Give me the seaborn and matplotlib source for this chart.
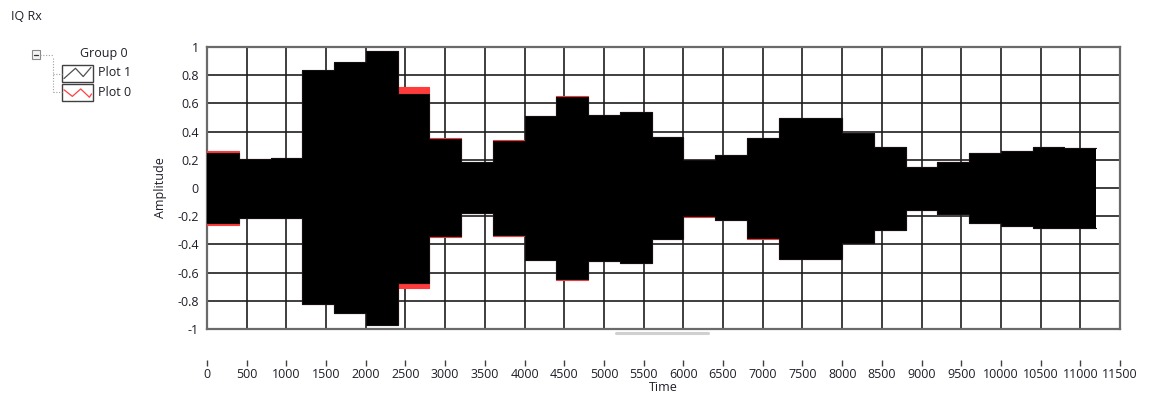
import numpy as np
import pandas as pd
import matplotlib
matplotlib.use("Agg")
import matplotlib.pyplot as plt
import seaborn as sns
from matplotlib.patches import Rectangle
from matplotlib.lines import Line2D

# ---------------- data (segment envelopes) ----------------
seg_start = [0, 400, 800, 1200, 1600, 2000, 2400, 2800, 3200, 3600, 4000, 4400, 4800, 5200,
             5600, 6000, 6400, 6800, 7200, 7600, 8000, 8400, 8800, 9200, 9600, 10000, 10400, 10800]
seg_end = 11200

plot1_upper = [0.25, 0.205, 0.215, 0.837, 0.896, 0.974, 0.667, 0.345, 0.182, 0.335, 0.51, 0.645,
               0.52, 0.54, 0.36, 0.20, 0.234, 0.357, 0.494, 0.50, 0.388, 0.293, 0.151, 0.182,
               0.246, 0.265, 0.293, 0.281]
plot1_lower = [-0.25, -0.21, -0.215, -0.825, -0.89, -0.97, -0.676, -0.34, -0.175, -0.335, -0.51,
               -0.645, -0.52, -0.53, -0.36, -0.2, -0.23, -0.357, -0.5, -0.505, -0.39, -0.298,
               -0.156, -0.187, -0.246, -0.267, -0.286, -0.281]
plot0_upper = [0.265, 0.205, 0.215, 0.83, 0.89, 0.97, 0.714, 0.352, 0.175, 0.338, 0.51, 0.652,
               0.52, 0.54, 0.36, 0.20, 0.234, 0.357, 0.494, 0.50, 0.388, 0.293, 0.151, 0.182,
               0.246, 0.265, 0.293, 0.281]
plot0_lower = [-0.265, -0.21, -0.215, -0.82, -0.885, -0.965, -0.711, -0.35, -0.18, -0.34, -0.51,
               -0.655, -0.52, -0.53, -0.36, -0.205, -0.23, -0.36, -0.5, -0.505, -0.39, -0.298,
               -0.156, -0.187, -0.246, -0.267, -0.286, -0.281]

x_ticks = list(range(0, 11501, 500))
y_ticks = [1, 0.8, 0.6, 0.4, 0.2, 0, -0.2, -0.4, -0.6, -0.8, -1]
y_tick_labels = ["1", "0.8", "0.6", "0.4", "0.2", "0", "-0.2", "-0.4", "-0.6", "-0.8", "-1"]

# ---------------- style ----------------
sns.set_style("white")
plt.rcParams['font.family'] = ['Open Sans', 'DejaVu Sans']
FS = 9
plt.rcParams['font.size'] = FS
TXT = '#1e1e28'

W, H = 1150, 396
fig = plt.figure(figsize=(W / 100, H / 100), dpi=100)
fig.patch.set_facecolor('white')

def fx(px):
    return px / W

def fy(py):
    return 1 - py / H

L, R, T, B = 207, 1120, 47, 329
ax = fig.add_axes([fx(L), fy(B), fx(R) - fx(L), fy(T) - fy(B)])

xs = seg_start + [seg_end]
def ext(a):
    return list(a) + [a[-1]]

df = pd.DataFrame({
    'Time': xs,
    'p0u': ext(plot0_upper), 'p0l': ext(plot0_lower),
    'p1u': ext(plot1_upper), 'p1l': ext(plot1_lower),
})

# Plot 0 (red) underneath
ax.fill_between(df['Time'], df['p0l'], df['p0u'], step='post', color='#ff3b3b', lw=0, zorder=3)
sns.lineplot(data=df, x='Time', y='p0u', drawstyle='steps-post', color='#ff3b3b', lw=0.8, ax=ax, zorder=3)
sns.lineplot(data=df, x='Time', y='p0l', drawstyle='steps-post', color='#ff3b3b', lw=0.8, ax=ax, zorder=3)
# Plot 1 (black) on top
ax.fill_between(df['Time'], df['p1l'], df['p1u'], step='post', color='black', lw=0, zorder=4)
sns.lineplot(data=df, x='Time', y='p1u', drawstyle='steps-post', color='#101010', lw=0.8, ax=ax, zorder=4)
sns.lineplot(data=df, x='Time', y='p1l', drawstyle='steps-post', color='#101010', lw=0.8, ax=ax, zorder=4)

ax.set_xlim(0, 11500)
ax.set_ylim(-1, 1)
ax.set_xticks(x_ticks)
ax.set_yticks(y_ticks)
ax.set_yticklabels(y_tick_labels)
ax.grid(True, color='#1e1e1e', lw=1.2, zorder=1)
ax.set_axisbelow(True)
ax.tick_params(axis='x', length=0, labelbottom=False)
ax.tick_params(axis='y', length=4, width=1, color='#404040', pad=2, labelsize=FS, labelcolor=TXT)
for s in ax.spines.values():
    s.set_color('#6a6a6a')
    s.set_linewidth(1.6)
ax.set_xlabel('')
ax.set_ylabel('Amplitude', fontsize=FS, color=TXT)
ax.yaxis.set_label_coords((167 - L) / (R - L), 0.5)

# detached time scale below
sec = ax.secondary_xaxis((B - 360) / (B - T))
sec.set_xticks(x_ticks)
sec.set_xticklabels([str(v) for v in x_ticks])
sec.tick_params(axis='x', length=4, width=1, color='#404040', pad=2, labelsize=FS, labelcolor=TXT)
sec.spines['bottom'].set_visible(False)
sec.set_xlabel('Time', fontsize=FS, color=TXT, labelpad=0)

# scrollbar-like light bar
fig.add_artist(Line2D([fx(616), fx(708)], [fy(333), fy(333)], color='#d0d0d0', lw=2.2))

# title
fig.text(fx(11), fy(16), 'IQ Rx', fontsize=FS, color=TXT, va='center', ha='left')

# legend tree
fig.add_artist(Rectangle((fx(31.5), fy(58.5)), fx(8), fy(50.5) - fy(58.5), facecolor='#f4f4f4',
                         edgecolor='#8a8a8a', lw=0.8))
fig.add_artist(Line2D([fx(33.5), fx(37.5)], [fy(54.5), fy(54.5)], color='#333333', lw=0.9))
dot = dict(color='#a0a0a0', lw=0.8, ls=(0, (1, 1.5)))
fig.add_artist(Line2D([fx(40), fx(53)], [fy(54.5), fy(54.5)], **dot))
fig.add_artist(Line2D([fx(53), fx(53)], [fy(58), fy(92)], **dot))
fig.add_artist(Line2D([fx(53), fx(61.5)], [fy(74), fy(74)], **dot))
fig.add_artist(Line2D([fx(53), fx(61.5)], [fy(92), fy(92)], **dot))
fig.text(fx(80), fy(54), 'Group 0', fontsize=FS, color=TXT, va='center', ha='left')

for top, col, pts, label in [
    (65, '#505050', [(0.08, 0.82), (0.45, 0.2), (0.7, 0.7), (0.95, 0.15)], 'Plot 1'),
    (84, '#ff4040', [(0.08, 0.35), (0.35, 0.75), (0.62, 0.3), (0.9, 0.8), (0.97, 0.6)], 'Plot 0'),
]:
    x0, x1, y0, y1 = 61.5, 92.5, top, top + 16.5
    fig.add_artist(Rectangle((fx(x0), fy(y1)), fx(x1) - fx(x0), fy(y0) - fy(y1), facecolor='white',
                             edgecolor='#404040', lw=1.0))
    px = [fx(x0 + p[0] * (x1 - x0)) for p in pts]
    py = [fy(y0 + p[1] * (y1 - y0)) for p in pts]
    fig.add_artist(Line2D(px, py, color=col, lw=0.9))
    fig.text(fx(98), fy(top + 8), label, fontsize=FS, color=TXT, va='center', ha='left')

fig.savefig('out.png', dpi=100, facecolor='white')
